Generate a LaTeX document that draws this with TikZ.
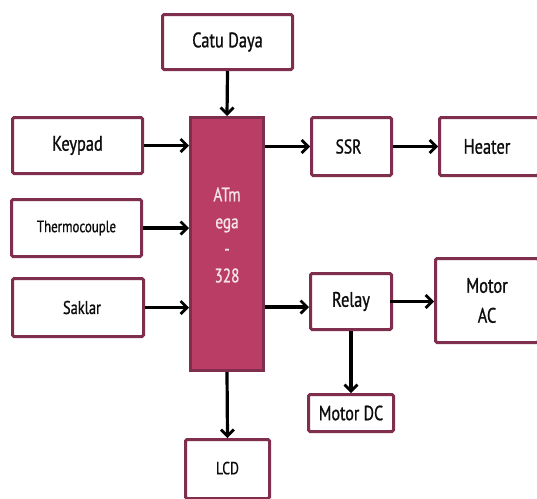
\documentclass[tikz,border=0pt]{standalone}
\usepackage{fontspec}
\setmainfont[FakeStretch=0.78,FakeBold=0.9]{PT Sans}
\usetikzlibrary{arrows.meta}
\definecolor{boxline}{HTML}{7F2E4E}
\definecolor{mcufill}{HTML}{B93D65}
\definecolor{mcutext}{HTML}{F6E4EA}
\tikzset{
  blk/.style={draw=boxline, line width=3pt, rounded corners=1.5pt, fill=white,
    inner sep=0pt, minimum width=#1, text=black!95, font=\fontsize{21}{24}\selectfont},
  blk/.default=130pt,
  conn/.style={line width=3.2pt, -{Straight Barb[length=6.5pt,width=13pt,line width=2.8pt]}},
}
\begin{document}
\begin{tikzpicture}[x=1pt,y=-1pt]
\useasboundingbox (0,0) rectangle (537,498);
% blocks
\node[blk=130pt, minimum height=55pt] (cd) at (227.5,42) {Catu Daya};
\node[blk=130pt, minimum height=56pt] (kp) at (77.5,145.5) {Keypad};
\node[blk=130pt, minimum height=57pt, font=\fontsize{16.5}{19}\selectfont] (tc) at (76.5,228) {Thermocouple};
\node[blk=131pt, minimum height=58pt, font=\fontsize{18.5}{21}\selectfont] (sk) at (78,307.5) {\hspace*{8pt}Saklar};
\node[draw=boxline, fill=mcufill, line width=3pt, minimum width=73pt, minimum height=253pt, inner sep=0pt] (mcu) at (227,244) {};
\node[text=mcutext, align=center, font=\fontsize{19.5}{27}\selectfont] (mcut) at (227,235) {ATm\\ega\\-\\328};
\node[blk=84pt, minimum height=59pt, font=\fontsize{17.5}{20}\selectfont] (lcd) at (227.5,469) {\raisebox{2pt}{LCD}};
\node[blk=80pt, minimum height=58pt, font=\fontsize{20}{23}\selectfont] (ssr) at (351.5,146.5) {\hspace*{-6pt}SSR};
\node[blk=99pt, minimum height=58pt] (ht) at (489,146.5) {\hspace*{-4pt}Heater};
\node[blk=81pt, minimum height=56pt] (rl) at (351,301.5) {Relay};
\node[blk=103pt, minimum height=84pt, align=center, font=\fontsize{21}{30}\selectfont] (mac) at (487,300.5) {Motor\\AC};
\node[blk=85pt, minimum height=37pt, font=\fontsize{20.5}{23}\selectfont] (mdc) at (351,413) {Motor DC};
% connectors
\draw[conn] (cd.south) -- (mcu.north);
\draw[conn] (kp.east) -- (kp.east -| mcu.west);
\draw[conn] (tc.east) -- (tc.east -| mcu.west);
\draw[conn] (sk.east) -- (sk.east -| mcu.west);
\draw[conn] (ssr.west -| mcu.east) -- (ssr.west);
\draw[conn] (ssr.east) -- (ht.west);
\draw[conn] ([yshift=-5.5pt]rl.west -| mcu.east) -- ([yshift=-5.5pt]rl.west);
\draw[conn] ([xshift=-3pt]rl.east) -- (rl.east -| mac.west);
\draw[conn] (rl.south) -- (mdc.north);
\draw[conn] (mcu.south) -- (lcd.north);
\end{tikzpicture}
\end{document}
